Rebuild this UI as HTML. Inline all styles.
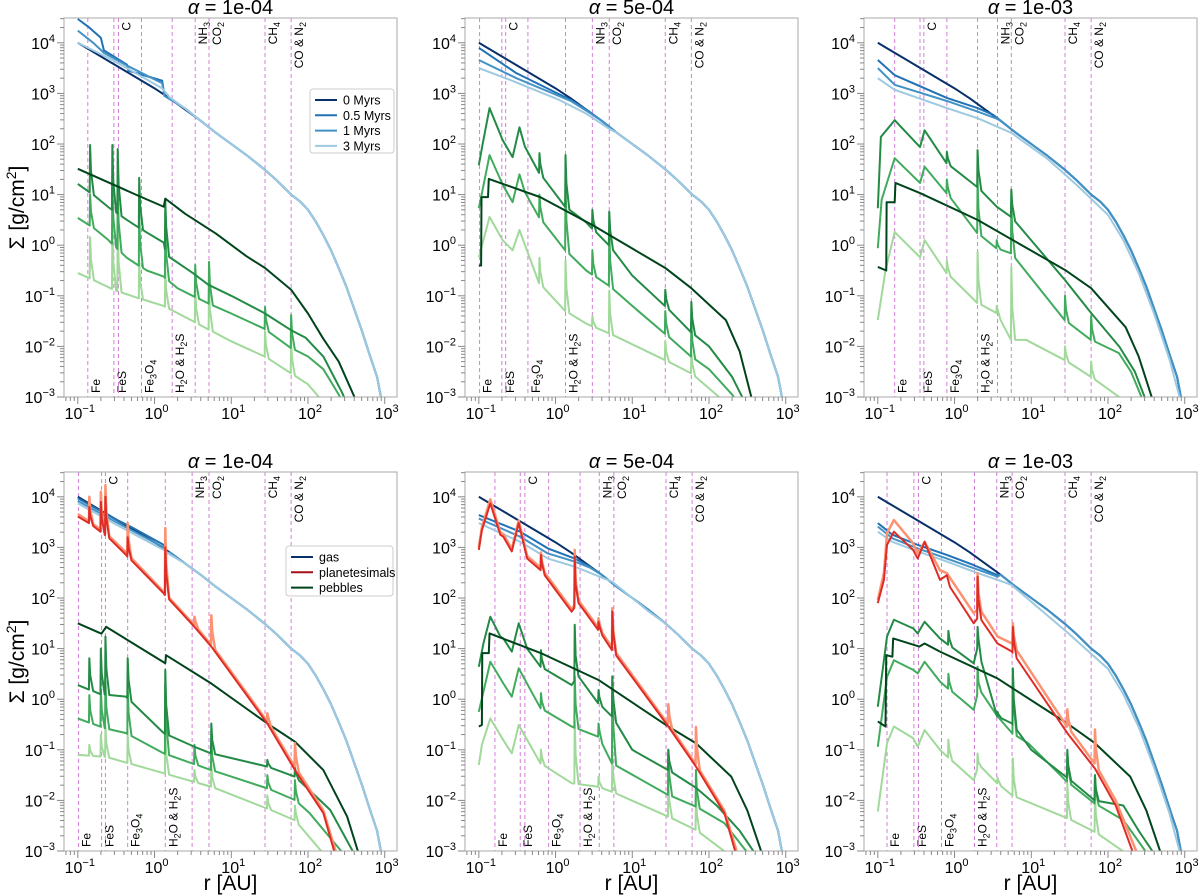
<!DOCTYPE html>
<html><head><meta charset="utf-8"><title>Surface density profiles</title>
<style>html,body{margin:0;padding:0;background:#fff}svg{display:block;font-family:"Liberation Sans",sans-serif}</style>
</head><body>
<svg id="fig" xmlns="http://www.w3.org/2000/svg" width="1200" height="895" viewBox="0 0 1200 895"></svg>
<script>
// ===== data (log10 r [AU], log10 Sigma [g/cm^2]) =====
const alphaLabels = ["1e-04","5e-04","1e-03","1e-04","5e-04","1e-03"];
const xTickExps = [-1,0,1,2,3];
const yTickExps = [-3,-2,-1,0,1,2,3,4];
const legendTop = ["0 Myrs","0.5 Myrs","1 Myrs","3 Myrs"];
const legendBottom = ["gas","planetesimals","pebbles"];
const iceNames = ["Fe","FeS","C","Fe3O4","H2O & H2S","NH3","CO2","CH4","CO & N2"];
const iceTop = [false,false,true,false,false,true,true,true,true];
const ice_p1 = [-0.87,-0.53,-0.47,-0.17,0.23,0.53,0.71,1.44,1.78];
const ice_p2 = [-0.99,-0.70,-0.65,-0.36,0.13,0.48,0.70,1.43,1.77];
const ice_p3 = [-0.78,-0.45,-0.40,-0.10,0.30,0.56,0.74,1.44,1.78];
const ice_p4 = [-0.99,-0.69,-0.64,-0.35,0.14,0.49,0.71,1.44,1.78];
const ice_p5 = [-0.79,-0.46,-0.40,-0.09,0.32,0.57,0.76,1.44,1.78];
const ice_p6 = [-0.88,-0.53,-0.47,-0.17,0.26,0.55,0.75,1.44,1.78];

const GAS0 = [[-1,4.0],[-0.6,3.64],[-0.2,3.28],[0,3.1],[0.2,2.9],[0.4,2.68],[0.6,2.46],[0.8,2.22],[1,2.0],[1.2,1.78],[1.43,1.5],[1.6,1.27],[1.78,1.0],[1.9,0.86],[2,0.7],[2.1,0.47],[2.2,0.2],[2.3,-0.1],[2.4,-0.45],[2.5,-0.82],[2.6,-1.25],[2.7,-1.68],[2.8,-2.15],[2.9,-2.6],[2.95,-3.0],[3.0,-3.4]];

// panel 1
const p1_g05 = [[-1,4.47],[-0.85,4.3],[-0.7,4.1],[-0.66,3.85],[-0.36,3.57],[-0.34,3.45],[0.1,3.25],[0.13,2.95],[0.4,2.7]];
const p1_g1 = [[-1,4.24],[-0.8,4.0],[-0.66,3.8],[-0.36,3.55],[0.1,3.2],[0.13,2.95],[0.4,2.7]];
const p1_g3 = [[-1,4.0],[-0.6,3.7],[-0.36,3.5],[0.1,3.1],[0.2,2.92],[0.4,2.7]];
const p1_pd = [[-1,1.51],[-0.2,0.97],[0.12,0.76],[0.14,0.92],[0.4,0.62],[0.8,0.23],[1.2,-0.22],[1.44,-0.45],[1.78,-0.88],[2.0,-1.35],[2.2,-1.85],[2.4,-2.3],[2.62,-3.05]];
const p1_pm = [[-1,1.21],[-0.8,1.0],[-0.6,0.75],[-0.36,0.5],[-0.1,0.25],[0.12,0.05],[0.16,-0.2],[0.5,-0.55],[0.7,-0.78],[1.0,-1.0],[1.43,-1.34],[1.78,-1.68],[1.97,-1.83],[2.2,-2.2],[2.44,-2.9],[2.5,-3.1]];
const p1_pm_spk = [[-0.84,1.98],[-0.55,1.98],[-0.48,1.9],[-0.2,1.33],[0.14,0.89]];
const p1_pn = [[-1,0.54],[-0.8,0.35],[-0.6,0.1],[-0.36,-0.25],[-0.1,-0.5],[0.12,-0.62],[0.3,-0.85],[0.7,-1.15],[1.0,-1.35],[1.43,-1.65],[1.78,-2.03],[2.0,-2.2],[2.2,-2.45],[2.4,-2.95],[2.45,-3.1]];
const p1_pn_spk = [[-0.84,1.0],[-0.55,1.2],[-0.48,1.1],[-0.2,0.6],[0.14,0.4],[0.53,-0.39],[0.71,-0.33],[1.44,-1.22],[1.78,-1.38]];
const p1_pl = [[-1,-0.55],[-0.85,-0.65],[-0.5,-0.9],[-0.2,-1.05],[0.12,-1.2],[0.5,-1.5],[1.0,-1.9],[1.44,-2.2],[1.78,-2.53],[2.0,-2.75],[2.17,-3.05]];
const p1_pl_spk = [[-0.84,0.16],[-0.55,0.36],[-0.48,0.36],[-0.2,-0.3],[0.14,-0.5],[0.53,-0.9],[0.71,-0.8],[1.44,-1.7],[1.78,-1.9]];

// panel 2
const p2_g05 = [[-1,3.9],[-0.51,3.4],[0.2,2.87],[0.4,2.68]];
const p2_g1 = [[-1,3.66],[-0.51,3.3],[0.2,2.85],[0.4,2.66]];
const p2_g3 = [[-1,3.5],[-0.6,3.27],[0.05,2.87],[0.4,2.6],[0.7,2.3]];
const p2_pd = [[-1,-0.4],[-0.97,-0.4],[-0.965,0.95],[-0.88,0.95],[-0.87,1.31],[-0.2,0.95],[0.48,0.4],[1.43,-0.45],[1.77,-0.85],[2.22,-1.48],[2.4,-2.1],[2.56,-3.05]];
const p2_pm = [[-1,1.58],[-0.95,2.0],[-0.86,2.71],[-0.69,2.08],[-0.56,1.74],[-0.47,2.33],[-0.4,1.95],[-0.21,1.43],[0.13,0.76],[0.4,0.45],[0.7,0.0],[1.0,-0.6],[1.43,-1.2],[1.77,-1.72],[2.0,-2.0],[2.3,-2.6],[2.45,-3.05]];
const p2_pm_spk = [[-0.21,1.82],[0.13,1.78],[0.48,0.7],[0.7,0.66],[1.43,-0.88],[1.77,-1.12]];
const p2_pn = [[-1,0.73],[-0.95,1.1],[-0.86,1.78],[-0.69,1.2],[-0.56,0.85],[-0.47,1.4],[-0.4,1.05],[-0.21,0.55],[0.13,-0.1],[0.4,-0.5],[0.7,-0.8],[1.0,-1.2],[1.43,-1.75],[1.77,-2.2],[2.0,-2.45],[2.3,-2.95],[2.35,-3.05]];
const p2_pn_spk = [[-0.21,1.0],[0.13,1.2],[0.48,-0.1],[0.7,0.3],[1.43,-1.3],[1.77,-1.5]];
const p2_pl = [[-1,-0.24],[-0.86,0.56],[-0.69,0.1],[-0.56,-0.1],[-0.47,0.3],[-0.21,-0.75],[0.13,-1.3],[0.4,-1.55],[0.7,-1.74],[1.43,-2.27],[1.77,-2.53],[2.17,-3.05]];
const p2_pl_spk = [[-0.21,-0.25],[0.13,-0.3],[0.48,-1.4],[0.7,-0.9],[1.43,-1.9],[1.77,-2.1]];

// panel 3
const p3_g05 = [[-1,3.66],[-0.78,3.36],[-0.1,2.91],[0.3,2.71],[0.5,2.58]];
const p3_g1 = [[-1,3.5],[-0.78,3.17],[-0.1,2.85],[0.3,2.64],[0.55,2.5]];
const p3_g3 = [[-1,3.3],[-0.78,3.07],[-0.1,2.71],[0.3,2.51],[0.74,2.22],[1.2,1.72],[1.6,1.18],[2.0,0.6],[2.2,0.1],[2.4,-0.55],[2.6,-1.35],[2.8,-2.25],[2.95,-3.1],[3.0,-3.5]];
const p3_pd = [[-1,-0.43],[-0.89,-0.5],[-0.885,0.85],[-0.78,0.85],[-0.77,1.23],[-0.45,1.03],[0.3,0.5],[1.44,-0.49],[1.78,-0.85],[2.23,-1.62],[2.4,-2.2],[2.58,-3.05]];
const p3_pm = [[-1,0.73],[-0.96,2.14],[-0.78,2.47],[-0.45,1.94],[-0.39,2.27],[-0.1,1.62],[0.3,1.15],[0.55,0.76],[0.74,0.56],[1.44,-0.69],[1.78,-1.34],[2.15,-2.01],[2.35,-2.5],[2.49,-3.05]];
const p3_pm_spk = [[-0.1,1.85],[0.3,1.88],[0.74,1.1]];
const p3_pn = [[-1,-0.06],[-0.95,0.9],[-0.78,1.72],[-0.45,1.23],[-0.39,1.55],[-0.1,1.03],[0.3,0.24],[0.55,-0.06],[0.74,-0.16],[1.44,-1.48],[1.78,-1.87],[2.14,-2.13],[2.3,-2.5],[2.45,-3.05]];
const p3_pn_spk = [[-0.1,1.3],[0.3,1.3],[0.55,0.1],[0.74,0.85],[1.44,-1.0],[1.78,-1.4]];
const p3_pl = [[-1,-1.48],[-0.9,-0.5],[-0.78,0.26],[-0.45,-0.24],[-0.39,0.1],[-0.1,-0.55],[0.3,-1.14],[0.55,-1.34],[0.74,-1.87],[0.93,-1.87],[1.44,-2.27],[1.78,-2.6],[2.19,-3.05]];
const p3_pl_spk = [[-0.1,-0.3],[0.3,-0.13],[0.55,-1.2],[0.74,-0.43],[1.44,-2.0],[1.78,-2.3]];

// panel 4
const p4_g05 = [[-1,3.97],[-0.5,3.55],[-0.3,3.4],[0.12,3.05],[0.16,2.88]];
const p4_g1 = [[-1,3.92],[-0.5,3.5],[0.12,3.0],[0.16,2.88]];
const p4_g3 = [[-1,3.87],[-0.5,3.45],[0.12,2.95],[0.2,2.86]];
const p4_rs = [[-1,3.66],[-0.85,3.52],[-0.61,3.25],[-0.37,2.9],[0.12,2.12],[0.52,1.47],[0.74,1.08],[1.47,-0.43],[1.83,-1.33],[2.2,-2.2],[2.37,-3.05]];
const p4_rs_spk = [[-0.85,4.0],[-0.7,4.1],[-0.64,4.23],[-0.35,3.48],[0.14,3.38],[0.52,1.63],[0.74,1.66],[1.47,-0.28],[1.83,-0.87]];
const p4_rd = [[-1,3.61],[-0.85,3.48],[-0.61,3.21],[-0.37,2.85],[0.12,2.09],[0.52,1.43],[0.74,1.04],[1.47,-0.48],[1.83,-1.4],[2.2,-2.25],[2.35,-3.05]];
const p4_rd_spk = [[-0.85,3.8],[-0.7,3.9],[-0.64,4.0],[-0.35,3.2],[0.14,3.0]];
const p4_pd = [[-1,1.5],[-0.7,1.3],[-0.69,1.3],[-0.63,1.43],[0.14,0.71],[0.15,0.87],[0.74,0.31],[1.47,-0.48],[1.83,-0.84],[2.2,-1.4],[2.51,-2.32],[2.66,-3.05]];
const p4_pm = [[-1,0.28],[-0.7,0.1],[-0.37,0.05],[0.12,-0.67],[0.52,-0.94],[0.74,-1.07],[1.47,-1.33],[1.83,-1.53],[2.02,-1.8],[2.29,-2.19],[2.6,-3.05]];
const p4_pm_spk = [[-0.85,0.81],[-0.7,1.0],[-0.64,1.24],[-0.35,0.81],[0.14,0.58],[0.74,-0.48],[1.47,-1.2],[1.83,-1.35]];
const p4_pn = [[-1,-0.38],[-0.63,-0.58],[-0.37,-0.67],[0.12,-1.07],[0.74,-1.4],[1.47,-1.76],[1.83,-1.99],[2.02,-2.25],[2.46,-3.05]];
const p4_pn_spk = [[-0.85,0.08],[-0.7,0.2],[-0.64,0.35],[-0.35,0.25],[0.14,0.3],[0.52,-0.9],[0.74,-0.8],[1.47,-1.5],[1.83,-1.6]];
const p4_pl = [[-1,-1.1],[-0.63,-1.14],[0.14,-1.47],[0.74,-1.73],[1.47,-2.16],[1.83,-2.39],[2.2,-3.05]];
const p4_pl_spk = [[-0.85,-0.9],[-0.7,-0.7],[-0.64,-0.55],[-0.35,-0.7],[0.14,-0.6],[0.52,-1.4],[0.74,-1.3],[1.47,-1.9],[1.83,-2.1]];

// panel 5
const p5_g05 = [[-1,3.64],[-0.46,3.31],[-0.1,2.98],[0.25,2.78],[0.4,2.66]];
const p5_g1 = [[-1,3.57],[-0.46,3.21],[-0.1,2.88],[0.25,2.72],[0.45,2.6]];
const p5_g3 = [[-1,3.48],[-0.46,3.11],[-0.1,2.78],[0.25,2.62],[0.74,2.32],[1.2,1.75]];
const p5_rs = [[-1,3.0],[-0.96,3.4],[-0.85,3.95],[-0.72,3.3],[-0.68,3.26],[-0.57,2.97],[-0.48,3.53],[-0.37,2.83],[-0.19,2.6],[0.21,1.78],[0.3,1.95],[0.56,1.42],[0.74,1.02],[1.47,-0.49],[1.83,-1.28],[2.2,-2.2],[2.37,-3.05]];
const p5_rs_spk = [[-0.19,2.9],[0.25,2.95],[0.56,1.6],[0.74,1.8],[1.47,-0.1],[1.83,-0.55]];
const p5_rd = [[-1,2.95],[-0.96,3.34],[-0.85,3.87],[-0.72,3.25],[-0.68,3.21],[-0.57,2.92],[-0.48,3.48],[-0.37,2.78],[-0.19,2.55],[0.21,1.73],[0.3,1.9],[0.56,1.37],[0.74,0.97],[1.47,-0.54],[1.83,-1.33],[2.2,-2.25],[2.35,-3.05]];
const p5_rd_spk = [[-0.19,2.85],[0.25,2.82],[0.56,1.53],[0.74,1.73]];
const p5_pd = [[-1,-0.54],[-0.96,-0.51],[-0.955,0.91],[-0.87,0.91],[-0.86,1.3],[-0.19,0.91],[0.56,0.38],[1.47,-0.54],[1.83,-0.87],[2.29,-1.53],[2.5,-2.2],[2.69,-3.05]];
const p5_pm = [[-1,0.64],[-0.94,1.1],[-0.85,1.63],[-0.72,1.24],[-0.68,1.2],[-0.57,0.94],[-0.48,1.5],[-0.37,1.0],[-0.19,0.64],[0.21,0.28],[0.3,0.45],[0.56,-0.08],[0.74,-0.34],[1.0,-1.0],[1.47,-1.4],[1.83,-1.75],[2.1,-2.1],[2.4,-2.6],[2.6,-3.05]];
const p5_pm_spk = [[-0.19,0.97],[0.25,1.47],[0.56,0.18],[0.74,0.45],[1.47,-1.0]];
const p5_pn = [[-1,-0.25],[-0.85,0.74],[-0.68,0.31],[-0.57,0.05],[-0.48,0.61],[-0.19,-0.18],[0.21,-0.54],[0.56,-0.74],[0.74,-1.27],[1.47,-1.89],[1.83,-2.12],[2.2,-2.45],[2.51,-3.05]];
const p5_pn_spk = [[-0.19,0.12],[0.25,0.45],[0.56,-0.48],[0.74,0.45],[1.47,-1.0],[1.83,-1.4]];
const p5_pl = [[-1,-1.3],[-0.96,-0.9],[-0.85,-0.38],[-0.68,-0.81],[-0.57,-1.07],[-0.48,-0.51],[-0.19,-1.27],[0.21,-1.66],[0.56,-1.73],[0.74,-1.83],[1.47,-2.32],[1.83,-2.58],[2.24,-3.05]];
const p5_pl_spk = [[-0.19,-1.0],[0.25,-0.41],[0.56,-1.53],[0.74,-1.14],[1.47,-1.6],[1.83,-1.9]];

// panel 6
const p6_g05 = [[-1,3.48],[-0.81,3.25],[-0.48,3.05],[-0.1,2.85],[0.25,2.65],[0.56,2.45]];
const p6_g1 = [[-1,3.41],[-0.81,3.18],[-0.48,2.98],[-0.1,2.78],[0.25,2.59],[0.56,2.42]];
const p6_g3 = [[-1,3.31],[-0.81,3.11],[-0.48,2.92],[-0.1,2.72],[0.25,2.52],[0.56,2.36],[0.74,2.26],[1.47,1.32],[2.0,0.6],[2.2,0.1],[2.4,-0.55],[2.6,-1.35],[2.8,-2.25],[2.95,-3.1],[3.0,-3.5]];
const p6_rs = [[-1,1.96],[-0.92,2.5],[-0.88,3.28],[-0.79,3.54],[-0.54,3.08],[-0.48,2.88],[-0.39,3.11],[-0.19,2.55],[-0.1,2.49],[0.25,1.7],[0.32,1.8],[0.56,1.24],[0.75,1.1],[1.47,-0.54],[1.83,-1.27],[2.1,-2.0],[2.38,-3.05]];
const p6_rs_spk = [[0.3,2.49],[0.76,1.5],[1.47,-0.2],[1.83,-0.6]];
const p6_rd = [[-1,1.9],[-0.92,2.36],[-0.88,3.05],[-0.79,3.31],[-0.54,2.95],[-0.48,2.78],[-0.39,3.11],[-0.19,2.36],[-0.1,2.45],[-0.06,2.22],[0.25,1.5],[0.32,1.63],[0.56,1.1],[0.75,0.94],[1.47,-0.67],[1.83,-1.37],[2.1,-2.1],[2.33,-3.05]];
const p6_rd_spk = [[0.3,2.42],[0.76,1.43]];
const p6_pd = [[-1,-0.44],[-0.9,-0.54],[-0.89,0.87],[-0.81,0.84],[-0.8,1.2],[-0.46,1.04],[-0.39,1.1],[-0.19,0.94],[0.56,0.41],[1.47,-0.48],[1.83,-0.87],[2.29,-1.53],[2.5,-2.2],[2.69,-3.05]];
const p6_pm = [[-1,-0.15],[-0.88,1.24],[-0.79,1.57],[-0.54,1.4],[-0.48,1.3],[-0.39,1.53],[-0.19,1.2],[0.25,0.71],[0.3,1.0],[0.56,-0.34],[0.75,-0.48],[1.0,-1.0],[1.47,-1.55],[1.83,-2.0],[2.2,-2.1],[2.4,-2.6],[2.6,-3.05]];
const p6_pm_spk = [[-0.08,1.35],[0.3,1.43],[0.56,-0.25],[0.76,0.61],[1.47,-1.0],[1.83,-1.5]];
const p6_pn = [[-1,-0.94],[-0.88,0.44],[-0.79,0.77],[-0.54,0.58],[-0.48,0.51],[-0.39,0.74],[-0.19,0.35],[0.25,-0.21],[0.32,0.2],[0.56,-0.34],[0.75,-0.67],[0.96,-0.87],[1.47,-1.63],[1.83,-2.06],[2.2,-2.39],[2.51,-3.05]];
const p6_pn_spk = [[-0.08,0.5],[0.3,0.64],[0.76,0.58],[1.47,-1.1],[1.83,-1.5]];
const p6_pl = [[-1,-2.22],[-0.88,-0.87],[-0.79,-0.54],[-0.54,-0.77],[-0.48,-0.94],[-0.39,-0.61],[-0.19,-1.0],[0.25,-1.6],[0.32,-1.3],[0.56,-1.66],[0.75,-1.9],[1.47,-2.35],[1.83,-2.62],[2.24,-3.05]];
const p6_pl_spk = [[-0.08,-0.8],[0.3,-1.07],[0.56,-1.55],[0.76,-1.17],[1.47,-1.66],[1.83,-1.86]];

// ===== layout =====
const NS = "http://www.w3.org/2000/svg";
const svg = document.getElementById('fig');
const PL = [64,465,864], PW = 333, PT = [18,472], PH = 379;
const XMIN = -1.18, XMAX = 3.16, YMIN = -3, YMAX = 4.49;
const C = {g0:"#08306b",g05:"#2171b5",g1:"#4292c6",g3:"#9ecae1",pd:"#00441b",pm:"#238b45",pn:"#41ab5d",pl:"#a1d99b",rd:"#de2d26",rs:"#fc9272",ice:"#d27fd6"};

function xS(col, lr){ return PL[col] + (lr - XMIN)/(XMAX - XMIN)*PW; }
function yS(row, ls){ return PT[row] + (YMAX - ls)/(YMAX - YMIN)*PH; }
function el(tag, attrs, parent){ const e = document.createElementNS(NS, tag); for (const k in attrs) e.setAttribute(k, attrs[k]); (parent||svg).appendChild(e); return e; }
function withTail(inner){ const last = inner[inner.length-1][0]; return inner.concat(GAS0.filter(p => p[0] > last)); }
function interp(k, x){ if (x <= k[0][0]) return k[0][1]; for (let i=1;i<k.length;i++){ if (x <= k[i][0]){ const a=k[i-1], b=k[i]; return a[1] + (b[1]-a[1])*(x-a[0])/(b[0]-a[0]); } } return k[k.length-1][1]; }
function withSpikes(k, spk){
  if (!spk) return k;
  let pts = k.slice();
  spk.forEach(s => {
    const p = s[0], b = interp(k, p), b2 = interp(k, p+0.05);
    pts = pts.filter(q => !(q[0] > p-0.005 && q[0] < p+0.05));
    pts.push([p-0.005, b],[p, s[1]],[p+0.012, b+0.45*(s[1]-b)],[p+0.05, b2]);
  });
  return pts.sort((a,b)=>a[0]-b[0]);
}
function tenPow(t, exp){ t.appendChild(document.createTextNode('10')); const s = el('tspan',{dy:-7,'font-size':11},t); s.textContent = exp; }
function expStr(e){ return e<0 ? '\u2212'+(-e) : String(e); }

const panels = [
  {col:0,row:0,ice:ice_p1,gas:[GAS0,withTail(p1_g05),withTail(p1_g1),withTail(p1_g3)],red:null,peb:[[p1_pd,null],[p1_pm,p1_pm_spk],[p1_pn,p1_pn_spk],[p1_pl,p1_pl_spk]]},
  {col:1,row:0,ice:ice_p2,gas:[GAS0,withTail(p2_g05),withTail(p2_g1),withTail(p2_g3)],red:null,peb:[[p2_pd,null],[p2_pm,p2_pm_spk],[p2_pn,p2_pn_spk],[p2_pl,p2_pl_spk]]},
  {col:2,row:0,ice:ice_p3,gas:[GAS0,withTail(p3_g05),withTail(p3_g1),p3_g3],red:null,peb:[[p3_pd,null],[p3_pm,p3_pm_spk],[p3_pn,p3_pn_spk],[p3_pl,p3_pl_spk]]},
  {col:0,row:1,ice:ice_p4,gas:[GAS0,withTail(p4_g05),withTail(p4_g1),withTail(p4_g3)],red:[[p4_rs,p4_rs_spk],[p4_rd,p4_rd_spk]],peb:[[p4_pd,null],[p4_pm,p4_pm_spk],[p4_pn,p4_pn_spk],[p4_pl,p4_pl_spk]]},
  {col:1,row:1,ice:ice_p5,gas:[GAS0,withTail(p5_g05),withTail(p5_g1),withTail(p5_g3)],red:[[p5_rs,p5_rs_spk],[p5_rd,p5_rd_spk]],peb:[[p5_pd,null],[p5_pm,p5_pm_spk],[p5_pn,p5_pn_spk],[p5_pl,p5_pl_spk]]},
  {col:2,row:1,ice:ice_p6,gas:[GAS0,withTail(p6_g05),withTail(p6_g1),p6_g3],red:[[p6_rs,p6_rs_spk],[p6_rd,p6_rd_spk]],peb:[[p6_pd,null],[p6_pm,p6_pm_spk],[p6_pn,p6_pn_spk],[p6_pl,p6_pl_spk]]}
];

const defs = el('defs',{});
panels.forEach((P, i) => {
  const c = P.col, r = P.row, L = PL[c], T = PT[r];
  const cp = el('clipPath',{id:'clip'+i}, defs);
  el('rect',{x:L,y:T,width:PW,height:PH}, cp);
  const g = el('g',{});
  
  

  // title
  const tt = el('text',{x:L+PW/2,y:T-4,'text-anchor':'middle','font-size':20}, g);
  
  
  const a = el('tspan',{'font-style':'italic'},tt); a.textContent = 'α';
  tt.appendChild(document.createTextNode(' = ' + alphaLabels[i]));

  // ice lines
  P.ice.forEach((lr, k) => {
    const x = xS(c, lr);
    const ln = el('line',{x1:x,x2:x,y1:T,y2:T+PH,stroke:C.ice,'stroke-width':1,'stroke-dasharray':'4,3'}, g);
    
    
    const top = iceTop[k];
    const ax = x + 12, ay = top ? T+4 : T+PH-4;
    const t = el('text',{x:ax,y:ay,'font-size':12,'text-anchor':top?'end':'start',transform:'rotate(-90 '+ax+' '+ay+')'}, g);
    
    
    iceNames[k].split(/(\d)/).forEach(part => {
      if (!part) return;
      if (/\d/.test(part)) { const s = el('tspan',{'font-size':9,dy:3},t); s.textContent = part; const z = el('tspan',{dy:-3},t); z.textContent = '\u200b'; }
      else { const s = el('tspan',{},t); s.textContent = part; }
    });
  });

  // series
  const sg = el('g',{'clip-path':'url(#clip'+i+')'}, g);
  const draw = (pts, color, w, name) => {
    const d = pts.map((p,j)=> (j?'L':'M') + xS(c,p[0]).toFixed(2) + ' ' + yS(r,p[1]).toFixed(2)).join(' ');
    const pa = el('path',{d:d,fill:'none',stroke:color,'stroke-width':w,'stroke-linejoin':'round'}, sg);
    
    
  };
  const gc = [C.g0,C.g05,C.g1,C.g3];
  const gn = ['gas-0myr','gas-0.5myr','gas-1myr','gas-3myr'];
  [0,1,2,3].forEach(k => draw(P.gas[k], gc[k], 2, gn[k]));
  const pc = [C.pd,C.pm,C.pn,C.pl], pnm = ['pebbles-0myr','pebbles-0.5myr','pebbles-1myr','pebbles-3myr'];
  [3,2,1,0].forEach(k => draw(withSpikes(P.peb[k][0], P.peb[k][1]), pc[k], 2, pnm[k]));
  if (P.red) {
    draw(withSpikes(P.red[0][0], P.red[0][1]), C.rs, 2.5, 'planetesimals-late');
    draw(withSpikes(P.red[1][0], P.red[1][1]), C.rd, 2, 'planetesimals-early');
  }

  // frame
  const fr = el('rect',{x:L,y:T,width:PW,height:PH,fill:'none',stroke:'#aaa','stroke-width':1}, g);
  
  

  // x ticks
  for (let d=-2; d<=3; d++){
    for (let m=1; m<=9; m++){
      const lr = d + Math.log10(m);
      if (lr < XMIN || lr > XMAX) continue;
      const x = xS(c, lr), len = m===1 ? 7 : 4;
      el('line',{x1:x,x2:x,y1:T+PH,y2:T+PH+len,stroke:'#888','stroke-width':1}, g);
    }
  }
  xTickExps.forEach(e => {
    const t = el('text',{x:xS(c,e)+2,y:T+PH+22,'text-anchor':'middle','font-size':16}, g);
    
    
    tenPow(t, expStr(e));
  });
  // y ticks
  for (let d=-3; d<=4; d++){
    for (let m=1; m<=9; m++){
      const ls = d + Math.log10(m);
      if (ls < YMIN-1e-9 || ls > YMAX) continue;
      const y = yS(r, ls), len = m===1 ? 7 : 4;
      el('line',{x1:L-len,x2:L,y1:y,y2:y,stroke:'#888','stroke-width':1}, g);
    }
  }
  yTickExps.forEach(e => {
    const t = el('text',{x:L-9,y:yS(r,e)+6,'text-anchor':'end','font-size':16}, g);
    
    
    tenPow(t, expStr(e));
  });
});

// y-axis labels
[0,1].forEach(r => {
  const cy = PT[r] + PH/2;
  const t = el('text',{x:24,y:cy,'text-anchor':'middle','font-size':21,transform:'rotate(-90 24 '+cy+')'});
  
  
  t.appendChild(document.createTextNode('Σ [g/cm'));
  const s = el('tspan',{dy:-8,'font-size':14},t); s.textContent='2';
  const s2 = el('tspan',{dy:8},t); s2.textContent=']';
});
// x-axis labels
[0,1,2].forEach(c => {
  const t = el('text',{x:PL[c]+PW/2,y:890,'text-anchor':'middle','font-size':21});
  
  
  t.textContent = 'r [AU]';
});

// legends
function legend(x, y, w, h, labels, colors, name){
  const g = el('g',{});
  
  
  el('rect',{x:x,y:y,width:w,height:h,rx:3,fill:'#fff','fill-opacity':0.9,stroke:'#ccc'}, g);
  labels.forEach((lab,i) => {
    const yy = y + 11 + i*15.3;
    const ln = el('line',{x1:x+5,x2:x+27,y1:yy,y2:yy,stroke:colors[i],'stroke-width':2}, g);
    
    
    const t = el('text',{x:x+33,y:yy+4.5,'font-size':12.5}, g);
    
    
    t.textContent = lab;
  });
}
legend(310, 89, 84, 64, legendTop, [C.g0,C.g05,C.g1,C.g3], 'legend-time');
legend(286, 546, 107, 50, legendBottom, [C.g0,'#a50f15',C.pd], 'legend-component');
</script>
</body></html>
